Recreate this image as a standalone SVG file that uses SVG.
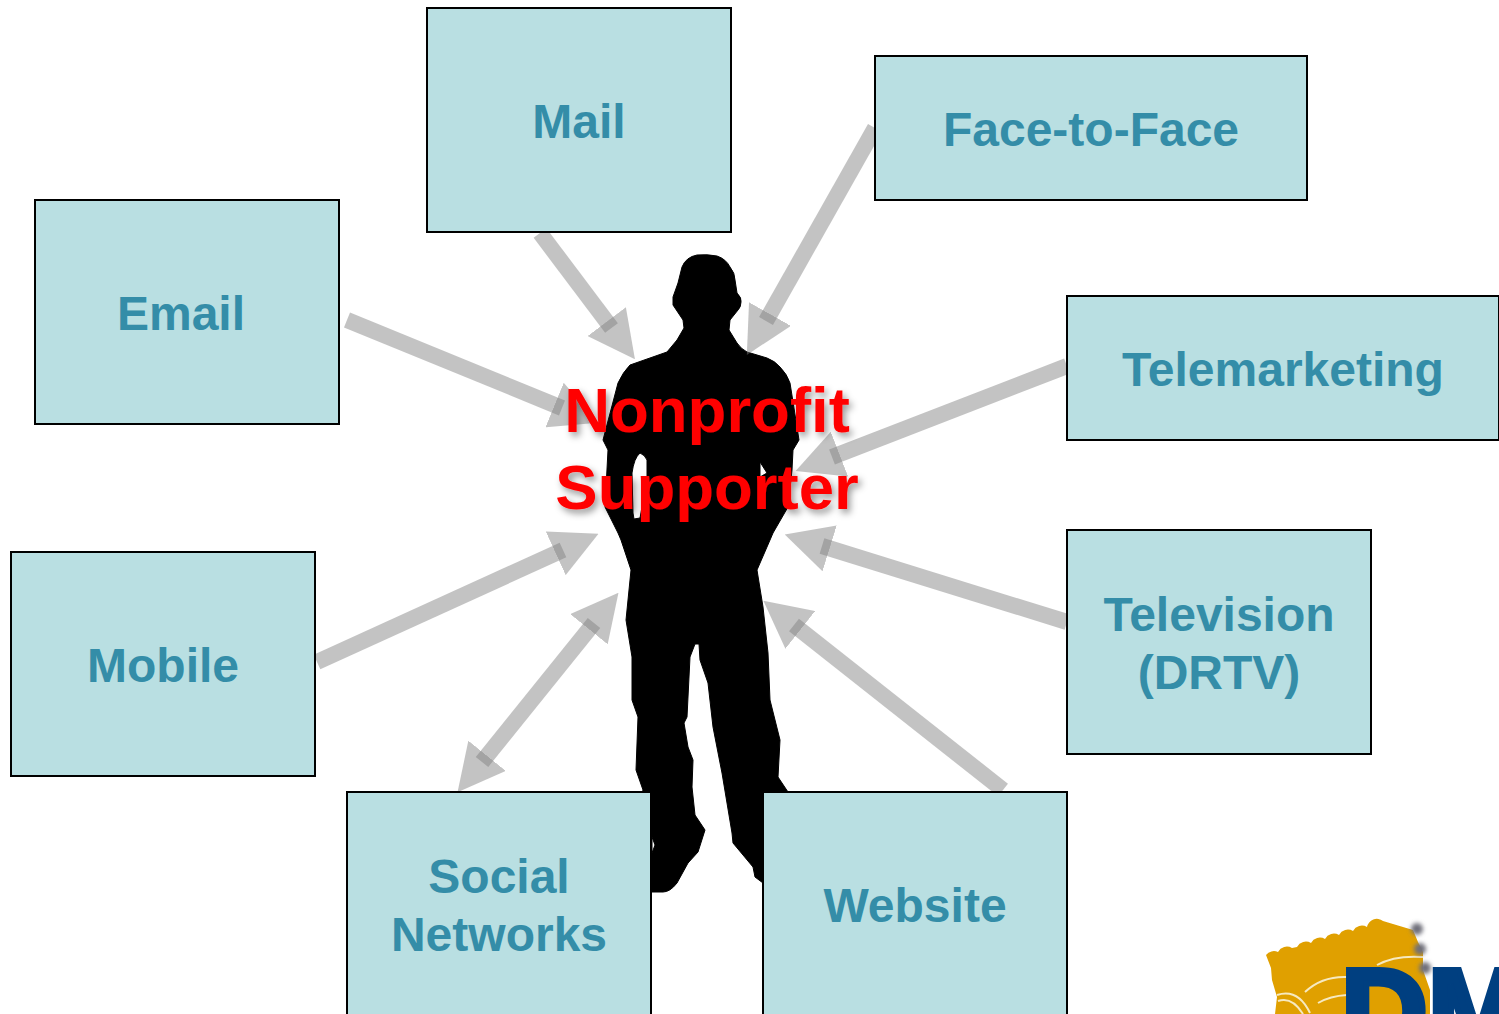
<svg xmlns="http://www.w3.org/2000/svg" width="1499" height="1014" viewBox="0 0 1499 1014">
<style>
.box{fill:#b9dfe2;stroke:#000;stroke-width:2}
.lbl{font-family:"Liberation Sans",Arial,sans-serif;font-weight:700;font-size:48px;fill:#348da8;text-anchor:middle}
.hero{font-family:"Liberation Sans",Arial,sans-serif;font-weight:700;font-size:63.5px;fill:#f00;text-anchor:middle;filter:url(#sh)}
.arr{fill:none;stroke:#808080;stroke-opacity:.47;stroke-width:16}
.curve{fill:none;stroke:#f6e9c0;stroke-width:2}
</style>
<defs>
<marker id="head" markerUnits="userSpaceOnUse" markerWidth="47" markerHeight="48" refX="8" refY="24" orient="auto-start-reverse" viewBox="0 0 47 48">
<path d="M0 0L47 24L0 48Z" fill="#808080" fill-opacity=".47"/>
</marker>
<filter id="sh" x="-10%" y="-20%" width="125%" height="150%"><feDropShadow dx="3" dy="4" stdDeviation="3.5" flood-color="#000" flood-opacity=".4"/></filter>
<filter id="bl" x="-60%" y="-60%" width="220%" height="220%"><feGaussianBlur stdDeviation="2.2"/></filter>
</defs>
<rect width="1499" height="1014" fill="#fff"/>
<g id="silhouette">
<path fill="#000" stroke="#000" stroke-width="1" stroke-linejoin="round" fill-rule="evenodd" d="M697 255Q707 254 717 256Q726 259 730 267Q735 273 735 280L737 293Q742 298 741 302Q741 307 738 310L730 320L729 330L737 343Q741 349 747 352L767 358Q775 361 780 367Q787 374 790 383L797 427L799 440L793 450L792 470L788 507L773 533L770 540L757 570L763 607L768 653L770 700L780 740L778 777L788 792L790 890L763 883L755 877L753 867L733 843L732 833L722 773L713 727L708 683L700 660L699 644L695 644L690 657L687 717L684 723L688 747L693 760L692 787L695 815L705 830L698 852L688 863L677 883Q670 892 663 892L640 892L640 800L643 790L636 770L638 717L632 700L632 657L626 620L631 570L621 540L618 533L605 507L608 450L603 440L618 383Q623 372 630 365L667 352L677 340L684 328L683 320L673 305L673 297L678 283L682 267Q686 257 697 255ZM640 453Q645 455 647 460L647 480L640 518L634 519L633 513L632 473Q634 458 640 453ZM760 462L767 473L760 477ZM652 837L655 845L652 853Z"/>
</g>
<g id="connectors">
<line class="arr" x1="540" y1="233" x2="611.5" y2="328" marker-end="url(#head)"/>
<line class="arr" x1="875" y1="128" x2="766" y2="321" marker-end="url(#head)"/>
<line class="arr" x1="347" y1="320" x2="562" y2="408" marker-end="url(#head)"/>
<line class="arr" x1="1067" y1="366" x2="832" y2="457" marker-end="url(#head)"/>
<line class="arr" x1="1067" y1="622" x2="822" y2="546" marker-end="url(#head)"/>
<line class="arr" x1="1003" y1="790" x2="794" y2="625" marker-end="url(#head)"/>
<line class="arr" x1="317" y1="662" x2="563" y2="550" marker-end="url(#head)"/>
<line class="arr" x1="482" y1="762" x2="594" y2="623" marker-start="url(#head)" marker-end="url(#head)"/>
</g>
<g id="node-mail"><rect class="box" x="427" y="8" width="304" height="224"/><text class="lbl" x="579" y="138">Mail</text></g>
<g id="node-face"><rect class="box" x="875" y="56" width="432" height="144"/><text class="lbl" x="1091" y="146">Face-to-Face</text></g>
<g id="node-email"><rect class="box" x="35" y="200" width="304" height="224"/><text class="lbl" x="181" y="330">Email</text></g>
<g id="node-telemarketing"><rect class="box" x="1067" y="296" width="432" height="144"/><text class="lbl" x="1283" y="386">Telemarketing</text></g>
<g id="node-television"><rect class="box" x="1067" y="530" width="304" height="224"/><text class="lbl" x="1219" y="631">Television</text><text class="lbl" x="1219" y="689">(DRTV)</text></g>
<g id="node-mobile"><rect class="box" x="11" y="552" width="304" height="224"/><text class="lbl" x="163" y="682">Mobile</text></g>
<g id="node-social"><rect class="box" x="347" y="792" width="304" height="224"/><text class="lbl" x="499" y="893">Social</text><text class="lbl" x="499" y="951">Networks</text></g>
<g id="node-website"><rect class="box" x="763" y="792" width="304" height="224"/><text class="lbl" x="915" y="922">Website</text></g>
<g id="node-supporter"><text class="hero" x="707" y="432">Nonprofit</text><text class="hero" x="707" y="509">Supporter</text></g>
<g id="logo">
<path fill="#e0a000" d="M1266 955a10 10 0 0 1 12 -3a10 10 0 0 1 14 -4l5 -1a10 10 0 0 1 14 -4a10 10 0 0 1 14 -4a10 10 0 0 1 14 -4a10 10 0 0 1 14 -4a10 10 0 0 1 14 -4a10 10 0 0 1 16 -6L1413 930L1418 942L1423 952L1423 970L1430 990L1430 1014L1275 1014L1277 997L1272 980L1271 968Z"/>
<path class="curve" d="M1305 992Q1322 976 1347 977M1318 1003Q1330 996 1347 995M1377 965Q1395 955 1423 957M1277 995Q1298 988 1310 1013M1278 1001Q1292 996 1303 1014"/>
<g filter="url(#bl)" fill="#70707a"><circle cx="1417" cy="929" r="6"/><circle cx="1420" cy="949" r="6"/><circle cx="1425" cy="968" r="6"/></g>
<text x="1341" y="1053" font-family="'Liberation Sans',Arial,sans-serif" font-weight="700" font-size="120" fill="#003f80" stroke="#003f80" stroke-width="6">DM</text>
</g>
</svg>
